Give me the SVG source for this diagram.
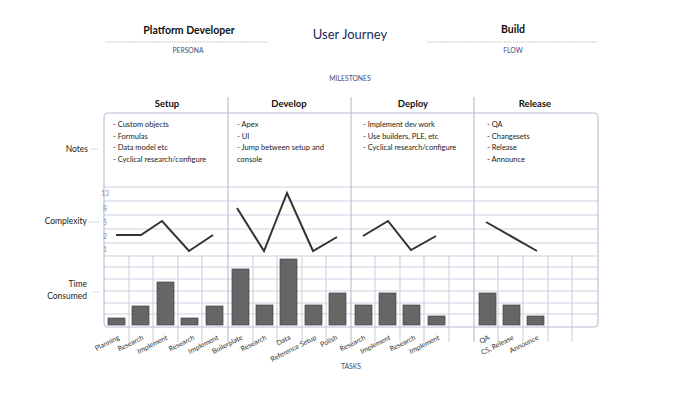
<svg xmlns="http://www.w3.org/2000/svg" width="700" height="394" viewBox="0 0 700 394">
<style>
text{font-family:Lato,"Open Sans","Liberation Sans",sans-serif}
.title{font-size:10.5px;font-weight:bold;fill:#111;text-anchor:middle}
.sub{font-size:6.8px;fill:#3b4d7a;text-anchor:middle}
.head{font-size:9.5px;font-weight:bold;fill:#111;text-anchor:middle}
.note{font-size:7.5px;fill:#222}
.side{font-size:8.5px;fill:#222;text-anchor:end}
.ax{font-size:7px;fill:#8e93b3;text-anchor:middle}
.task{font-size:7px;fill:#333;text-anchor:end}
.dot{stroke:#aaa;stroke-width:0.8;stroke-dasharray:1.2 1}
.grid{stroke:#cad1e2;stroke-width:1.1;fill:none}
.div{stroke:#b3bdd2;stroke-width:1.1;fill:none}
.cx{stroke:#333;stroke-width:2;fill:none;stroke-linejoin:miter}
.bar{fill:#666;stroke:#444;stroke-width:0.7}
</style>
<rect width="700" height="394" fill="#fff"/>
<g id="header">
<text class="title" x="189" y="34">Platform Developer</text>
<line class="dot" x1="106" y1="42" x2="269" y2="42"/>
<text class="sub" x="188" y="53">PERSONA</text>
<text x="350" y="39" style="font-size:13px;fill:#1b2a5a;text-anchor:middle">User Journey</text>
<text class="title" x="513" y="33">Build</text>
<line class="dot" x1="427" y1="42" x2="598" y2="42"/>
<text class="sub" x="513" y="53">FLOW</text>
<text class="sub" x="350" y="81">MILESTONES</text>
<text class="sub" x="351" y="369">TASKS</text>
</g>
<g id="grid">
<path class="grid" d="M104 201H598M104 215H598M104 229H598M104 243H598M104 256H598M104 267H598M104 279H598M104 291H598M104 303H598M104 314H598M104 187H598"/>
<path class="grid" d="M129 256V342M153 256V342M178 256V342M202 256V342M253 256V342M277 256V342M302 256V342M326 256V342M375 256V342M400 256V342M424 256V342M449 256V342M498 256V342M523 256V342M548 256V342M572 256V342"/>
<rect x="104" y="113" width="494" height="214" rx="4" class="div"/>
<path class="div" d="M228 97V342M351 97V342M474 97V342"/>
</g>
<g id="phases">
<text class="head" x="167" y="107">Setup</text>
<text class="head" x="289" y="107">Develop</text>
<text class="head" x="413" y="107">Deploy</text>
<text class="head" x="535" y="107">Release</text>
</g>
<g id="notes">
<text class="note" x="113" y="127">- Custom objects</text>
<text class="note" x="113" y="138.5">- Formulas</text>
<text class="note" x="113" y="150">- Data model etc</text>
<text class="note" x="113" y="161.5">- Cyclical research/configure</text>
<text class="note" x="237" y="127">- Apex</text>
<text class="note" x="237" y="138.5">- UI</text>
<text class="note" x="237" y="150">- Jump between setup and</text>
<text class="note" x="237" y="161.5">console</text>
<text class="note" x="363" y="127">- Implement dev work</text>
<text class="note" x="363" y="138.5">- Use builders, PLE, etc</text>
<text class="note" x="363" y="150">- Cyclical research/configure</text>
<text class="note" x="487" y="127">- QA</text>
<text class="note" x="487" y="138.5">- Changesets</text>
<text class="note" x="487" y="150">- Release</text>
<text class="note" x="487" y="161.5">- Announce</text>
</g>
<g id="rows">
<text class="side" x="88" y="152">Notes</text>
<line class="dot" x1="91" y1="149" x2="98" y2="149"/>
<text class="side" x="87" y="224">Complexity</text>
<line class="dot" x1="89" y1="222" x2="100" y2="222"/>
<text class="side" x="87" y="287">Time</text>
<text class="side" x="87" y="299">Consumed</text>
<line class="dot" x1="93" y1="292" x2="100" y2="292"/>
</g>
<g id="axis">
<text class="ax" x="105" y="196">13</text>
<text class="ax" x="105" y="211">8</text>
<text class="ax" x="105" y="225">5</text>
<text class="ax" x="105" y="239">2</text>
<text class="ax" x="105" y="252">1</text>
</g>
<g id="complexity">
<polyline class="cx" points="116,235 141,235 162,221 189,251 213,235"/>
<polyline class="cx" points="237,208 264,251 287,193 313,251 337,237"/>
<polyline class="cx" points="363,236 388,221 411,250 436,236"/>
<polyline class="cx" points="486,222 537,251"/>
</g>
<g id="bars">
<rect class="bar" x="108" y="318" width="17" height="7"/>
<rect class="bar" x="132" y="306" width="17" height="19"/>
<rect class="bar" x="157" y="282" width="17" height="43"/>
<rect class="bar" x="181" y="318" width="17" height="7"/>
<rect class="bar" x="206" y="306" width="17" height="19"/>
<rect class="bar" x="232" y="269" width="17" height="56"/>
<rect class="bar" x="256" y="305" width="17" height="20"/>
<rect class="bar" x="280" y="259" width="17" height="66"/>
<rect class="bar" x="305" y="305" width="17" height="20"/>
<rect class="bar" x="329" y="293" width="17" height="32"/>
<rect class="bar" x="355" y="305" width="17" height="20"/>
<rect class="bar" x="379" y="293" width="17" height="32"/>
<rect class="bar" x="403" y="305" width="17" height="20"/>
<rect class="bar" x="428" y="316" width="17" height="9"/>
<rect class="bar" x="479" y="293" width="17" height="32"/>
<rect class="bar" x="503" y="305" width="17" height="20"/>
<rect class="bar" x="527" y="316" width="17" height="9"/>
</g>
<g id="tasks">
<text class="task" transform="translate(120,339) rotate(-27)">Planning</text>
<text class="task" transform="translate(144,339) rotate(-27)">Research</text>
<text class="task" transform="translate(168,339) rotate(-27)">Implement</text>
<text class="task" transform="translate(195,339) rotate(-27)">Research</text>
<text class="task" transform="translate(219,339) rotate(-27)">Implement</text>
<text class="task" transform="translate(243,339) rotate(-27)">Boilerplate</text>
<text class="task" transform="translate(267,339) rotate(-27)">Research</text>
<text class="task" transform="translate(291,339) rotate(-27)">Data</text>
<text class="task" transform="translate(317,339) rotate(-27)">Reference Setup</text>
<text class="task" transform="translate(338,339) rotate(-27)">Polish</text>
<text class="task" transform="translate(366,339) rotate(-27)">Research</text>
<text class="task" transform="translate(391,339) rotate(-27)">Implement</text>
<text class="task" transform="translate(416,339) rotate(-27)">Research</text>
<text class="task" transform="translate(440,339) rotate(-27)">Implement</text>
<text class="task" transform="translate(490,339) rotate(-27)">QA</text>
<text class="task" transform="translate(514,339) rotate(-27)">CS, Release</text>
<text class="task" transform="translate(539,339) rotate(-27)">Announce</text>
</g>
</svg>
